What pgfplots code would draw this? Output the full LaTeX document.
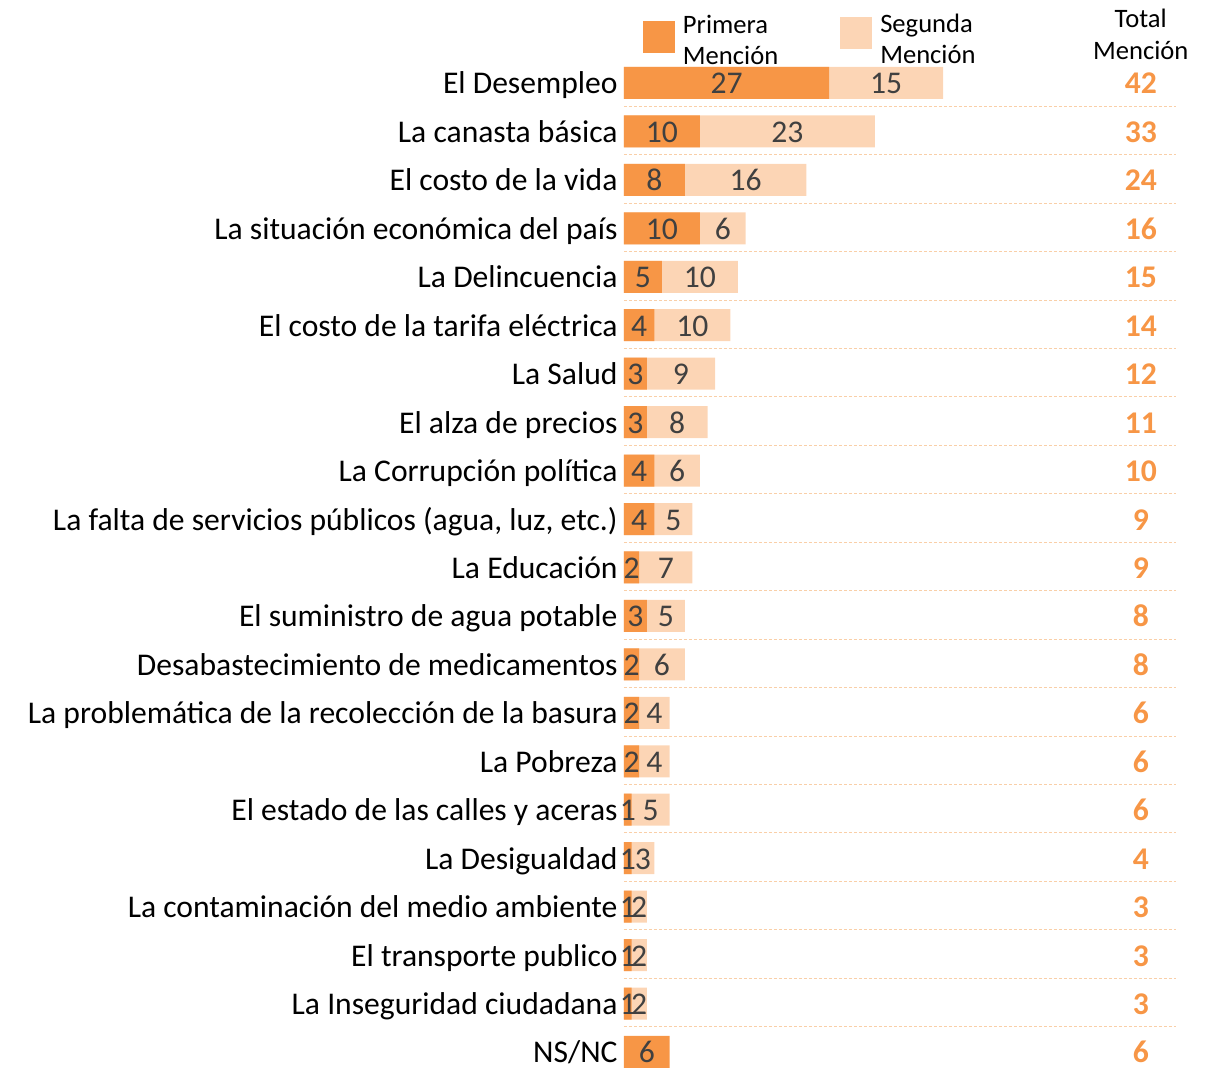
\documentclass[border=0pt]{standalone}
\usepackage{pgfplots}
\pgfplotsset{compat=1.18}
\usepackage{pgfplotstable}
\usepackage{fontspec}
\setmainfont{Carlito}
\definecolor{prim}{HTML}{F79646}
\definecolor{segu}{HTML}{FCD5B5}
\definecolor{lbl}{HTML}{404040}
\definecolor{gridc}{HTML}{F9CFA8}
\pgfplotstableread{
idx p1 p2 tot
0 27 15 42
1 10 23 33
2 8 16 24
3 10 6 16
4 5 10 15
5 4 10 14
6 3 9 12
7 3 8 11
8 4 6 10
9 4 5 9
10 2 7 9
11 3 5 8
12 2 6 8
13 2 4 6
14 2 4 6
15 1 5 6
16 1 3 4
17 1 2 3
18 1 2 3
19 1 2 3
20 6 nan 6
}\data
\pgfplotsset{
 sqA/.style={legend image code/.code={\path[fill=prim, draw=none] (0pt,-8pt) rectangle (16pt,8pt);}},
 sqB/.style={legend image code/.code={\path[fill=segu, draw=none] (0pt,-6pt) rectangle (16pt,10pt);}}}
\begin{document}
\begin{tikzpicture}
\begin{axis}[
 x=3.8pt, y=24.225pt,
 xmin=0, xmax=72.63, ymin=-1.713, ymax=20.33,
 y dir=reverse,
 clip=false,
 axis line style={draw=none},
 major tick length=0pt,
 xtick=\empty,
 ytick={0,...,20},
 yticklabels={El Desempleo,La canasta básica,El costo de la vida,La situación económica del país,La Delincuencia,El costo de la tarifa eléctrica,La Salud,El alza de precios,La Corrupción política,{La falta de servicios públicos (agua, luz, etc.)},La Educación,El suministro de agua potable,Desabastecimiento de medicamentos,La problemática de la recolección de la basura,La Pobreza,El estado de las calles y aceras,La Desigualdad,La contaminación del medio ambiente,El transporte publico,La Inseguridad ciudadana,NS/NC},
 yticklabel style={font=\fontsize{15.8}{18}\selectfont, inner sep=0pt, anchor=base east, xshift=-3pt, yshift=-5.5pt},
 extra y ticks={0.48,1.48,...,19.48},
 extra y tick labels={},
 extra y tick style={grid=major, major grid style={draw=gridc, line width=0.5pt, dash pattern=on 1.5pt off 1pt}},
 /pgf/number format/assume math mode=true,
 legend style={at={(axis cs:2.5,-0.94)}, anchor=west, draw=none, fill=none, inner sep=0pt, outer sep=0pt,
   nodes={inner sep=0pt}, font=\fontsize{13.3}{15.5}\selectfont,
   /tikz/every odd column/.append style={column sep=4pt},
   /tikz/every even column/.append style={column sep=31pt}},
 legend columns=2,
 legend cell align=left,
]
\addlegendimage{sqA}
\addlegendentry{\raisebox{5.5pt}{\begin{tabular}{@{}l@{}}Primera\\Mención\end{tabular}}}
\addlegendimage{sqB}
\addlegendentry{\raisebox{6.5pt}{\begin{tabular}{@{}l@{}}Segunda\\Mención\end{tabular}}}
\addplot[xbar, bar width=16pt, bar shift=0pt, fill=segu, draw=none, forget plot]
  table[x expr=\thisrow{p1}+\thisrow{p2}, y=idx]{\data};
\addplot[xbar, bar width=16pt, bar shift=0pt, fill=prim, draw=none, forget plot]
  table[x=p1, y=idx]{\data};
\addplot[draw=none, mark=none, forget plot, nodes near coords, point meta=explicit,
  nodes near coords style={anchor=base, yshift=-5.5pt, inner sep=0pt, text=lbl, font=\fontsize{15.8}{18}\selectfont}]
  table[x expr=\thisrow{p1}/2, y=idx, meta=p1]{\data};
\addplot[draw=none, mark=none, forget plot, nodes near coords, point meta=explicit,
  nodes near coords style={anchor=base, yshift=-5.5pt, inner sep=0pt, text=lbl, font=\fontsize{15.8}{18}\selectfont}]
  table[x expr=\thisrow{p1}+\thisrow{p2}/2, y=idx, meta=p2]{\data};
\addplot[draw=none, mark=none, forget plot, nodes near coords, point meta=explicit,
  nodes near coords style={anchor=base, yshift=-5.5pt, inner sep=0pt, text=prim, font=\fontsize{15.8}{18}\selectfont\bfseries}]
  table[x expr=68, y=idx, meta=tot]{\data};
\node[align=center, font=\fontsize{13.3}{16}\selectfont, anchor=center] at (axis cs:68,-1.011) {Total\\Mención};
\path (axis cs:-82.105,-1.713) coordinate (bbA);
\path (axis cs:77.24,20.33) coordinate (bbB);
\end{axis}
\pgfresetboundingbox
\useasboundingbox (bbA) rectangle (bbB);
\end{tikzpicture}
\end{document}
